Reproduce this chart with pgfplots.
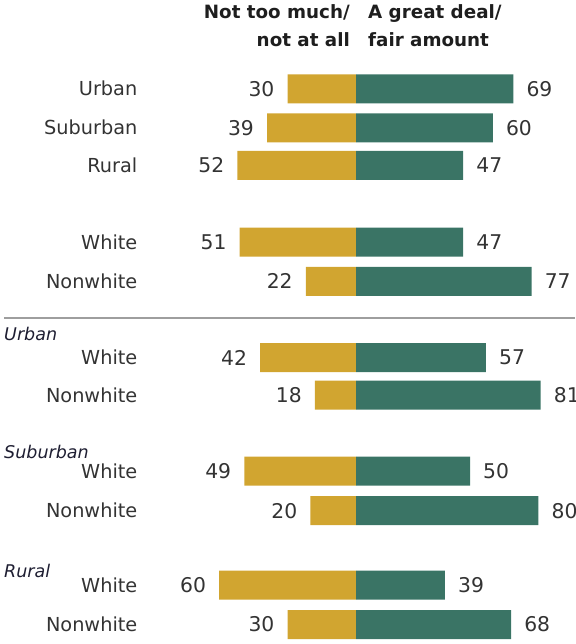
\documentclass[border=0pt]{standalone}
\usepackage{pgfplots}
\pgfplotsset{compat=1.18}
\usepackage{pgfplotstable}
\usepackage{fontspec}
\setmainfont{DejaVu Sans}
\definecolor{gold}{RGB}{209,165,48}
\definecolor{pewgreen}{RGB}{58,116,101}
\definecolor{txt}{RGB}{51,51,51}
\definecolor{hdr}{RGB}{30,30,30}
\definecolor{sub}{RGB}{30,30,50}

% y = vertical position of the row (pixels from top), neg = Not too much/not at all, pos = A great deal/fair amount
\pgfplotstableread{
y neg pos
88.8 30 69
127.8 39 60
165.4 52 47
242.0 51 47
281.4 22 77
357.7 42 57
395.0 18 81
471.2 49 50
510.7 20 80
585.0 60 39
624.5 30 68
}\data

\begin{document}
\begin{tikzpicture}[x=1pt,y=1pt]
\begin{axis}[
  at={(0,0)}, anchor=south west,
  scale only axis, width=575pt, height=644pt,
  xmin=-156.14, xmax=96.05, ymin=0, ymax=644,
  y dir=reverse, hide axis, clip=false,
  xbar, bar width=29, bar shift=0pt,
  /pgf/number format/assume math mode=true,
  nodes near coords, point meta=explicit,
  nodes near coords style={font=\fontsize{20.3}{21}\selectfont, text=txt, inner sep=0pt},
]
\addplot[fill=gold, draw=none, nodes near coords style={anchor=east, xshift=-13pt}]
  table[x expr=-\thisrow{neg}, y=y, meta=neg]{\data};
\addplot[fill=pewgreen, draw=none, nodes near coords style={anchor=west, xshift=13pt}]
  table[x=pos, y=y, meta=pos]{\data};
\end{axis}

% headers
\begin{scope}[every node/.style={inner sep=0pt, text=hdr, font=\fontsize{18.3}{20}\selectfont\bfseries}]
\node[anchor=base east] at (350, 625.7) {Not too much/};
\node[anchor=base east] at (350, 597.3) {not at all};
\node[anchor=base west] at (368, 625.7) {A great deal/};
\node[anchor=base west] at (368, 597.3) {fair amount};
\end{scope}

% row labels
\begin{scope}[every node/.style={inner sep=0pt, anchor=east, text=txt, font=\fontsize{19.3}{20}\selectfont}]
\node at (137.5, 644-88.8) {Urban};
\node at (137.5, 644-127.8) {Suburban};
\node at (137.5, 644-165.4) {Rural};
\node at (137.5, 644-242.0) {White};
\node at (137.5, 644-281.4) {Nonwhite};
\node at (137.5, 644-357.7) {White};
\node at (137.5, 644-395.0) {Nonwhite};
\node at (137.5, 644-471.2) {White};
\node at (137.5, 644-510.7) {Nonwhite};
\node at (137.5, 644-585.0) {White};
\node at (137.5, 644-624.5) {Nonwhite};
\end{scope}

% group subheads
\begin{scope}[every node/.style={inner sep=0pt, anchor=west, text=sub, font=\fontsize{17.5}{19}\selectfont\itshape}]
\node at (4, 644-334.3) {Urban};
\node at (4, 644-451.7) {Suburban};
\node at (4, 644-570.7) {Rural};
\end{scope}

\draw[line width=2pt, color=black!38] (4, 644-318.3) -- (575, 644-318.3);

\pgfresetboundingbox
\path (0,0) rectangle (575,644);
\end{tikzpicture}
\end{document}
